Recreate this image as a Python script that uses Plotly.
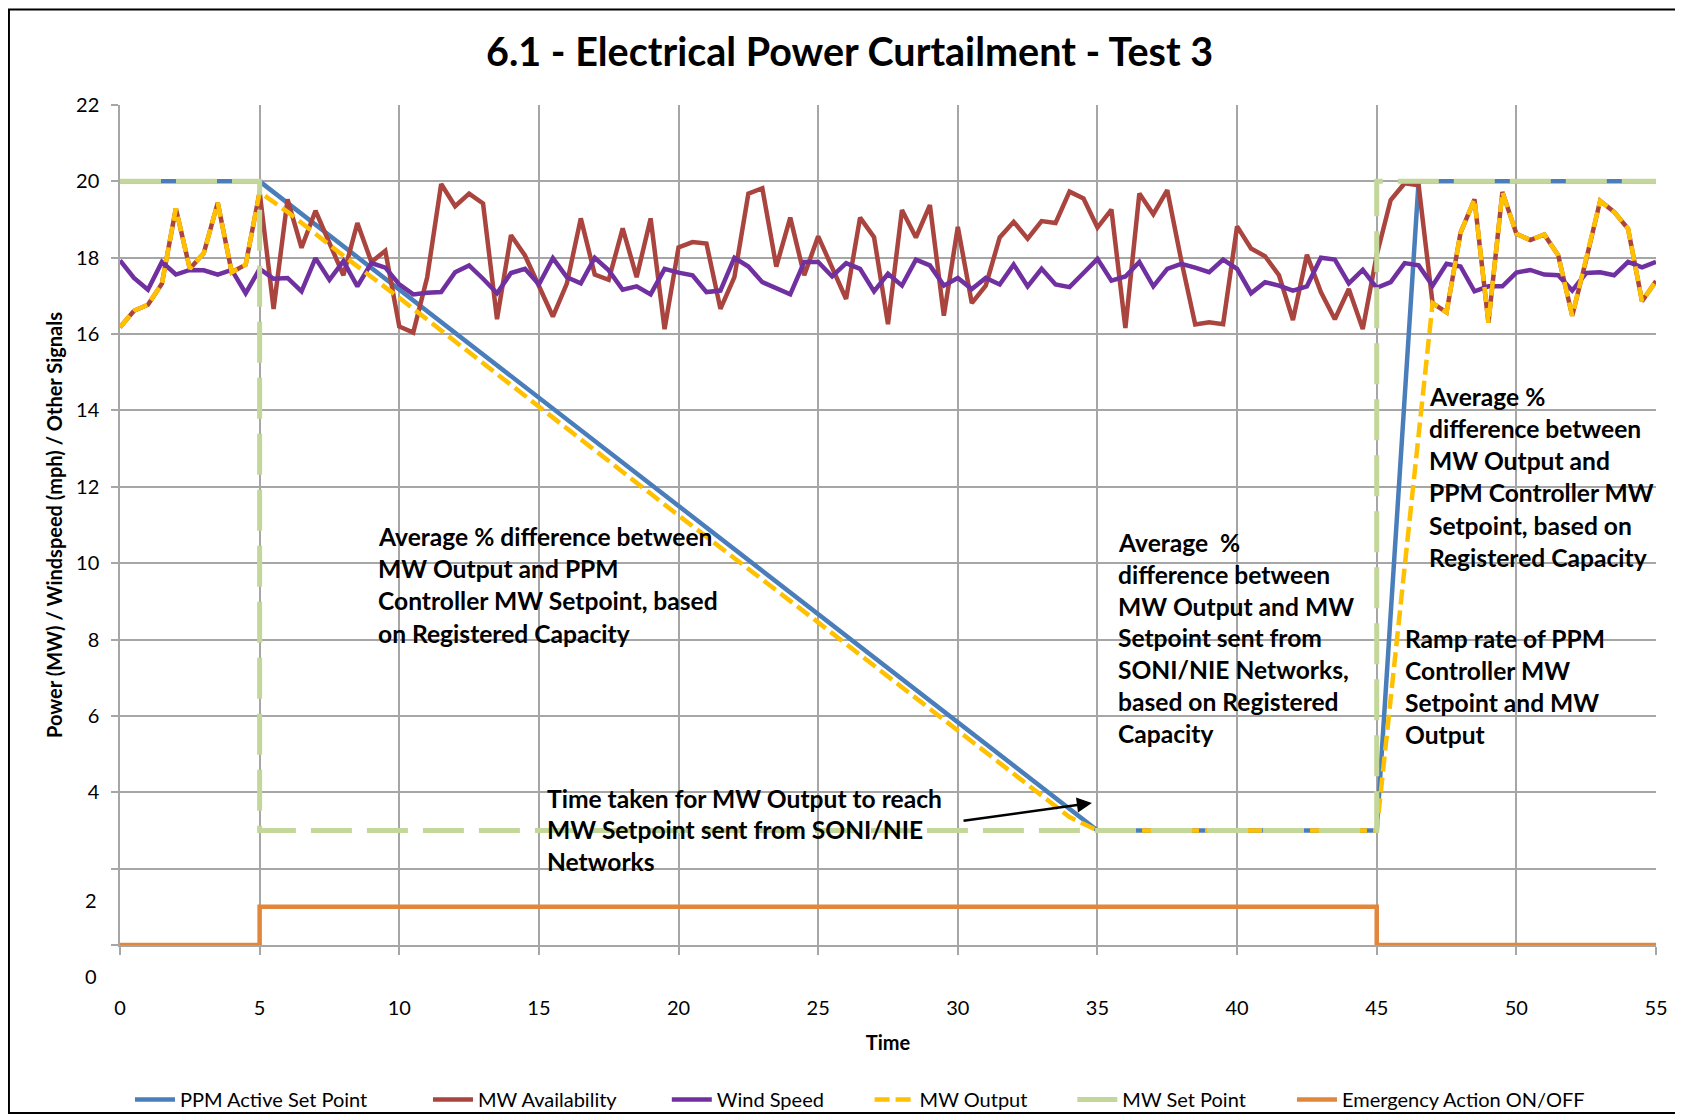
import plotly.graph_objects as go

# ============================================================
# DATA
# ============================================================
# sample times for the logged signals, every 0.5 time units
time_s = [
    0.0, 0.5, 1.0, 1.5, 2.0, 2.5, 3.0, 3.5, 4.0, 4.5,
    5.0, 5.5, 6.0, 6.5, 7.0, 7.5, 8.0, 8.5, 9.0, 9.5,
    10.0, 10.5, 11.0, 11.5, 12.0, 12.5, 13.0, 13.5, 14.0, 14.5,
    15.0, 15.5, 16.0, 16.5, 17.0, 17.5, 18.0, 18.5, 19.0, 19.5,
    20.0, 20.5, 21.0, 21.5, 22.0, 22.5, 23.0, 23.5, 24.0, 24.5,
    25.0, 25.5, 26.0, 26.5, 27.0, 27.5, 28.0, 28.5, 29.0, 29.5,
    30.0, 30.5, 31.0, 31.5, 32.0, 32.5, 33.0, 33.5, 34.0, 34.5,
    35.0, 35.5, 36.0, 36.5, 37.0, 37.5, 38.0, 38.5, 39.0, 39.5,
    40.0, 40.5, 41.0, 41.5, 42.0, 42.5, 43.0, 43.5, 44.0, 44.5,
    45.0, 45.5, 46.0, 46.5, 47.0, 47.5, 48.0, 48.5, 49.0, 49.5,
    50.0, 50.5, 51.0, 51.5, 52.0, 52.5, 53.0, 53.5, 54.0, 54.5,
    55.0,
]

mw_availability = [
    16.18, 16.61, 16.77, 17.32, 19.29, 17.71, 18.12, 19.44, 17.62, 17.82,
    19.72, 16.66, 19.53, 18.26, 19.23, 18.40, 17.54, 18.91, 17.89, 18.18,
    16.20, 16.04, 17.49, 19.93, 19.35, 19.68, 19.42, 16.39, 18.59, 18.06,
    17.27, 16.46, 17.32, 19.03, 17.56, 17.42, 18.77, 17.49, 19.03, 16.13,
    18.27, 18.41, 18.37, 16.66, 17.49, 19.68, 19.82, 17.77, 19.05, 17.54,
    18.56, 17.74, 16.92, 19.05, 18.54, 16.26, 19.25, 18.53, 19.38, 16.48,
    18.81, 16.81, 17.27, 18.53, 18.94, 18.50, 18.96, 18.91, 19.73, 19.55,
    18.79, 19.26, 16.16, 19.68, 19.14, 19.77, 17.93, 16.25, 16.31, 16.26,
    18.82, 18.24, 18.04, 17.54, 16.37, 18.08, 17.10, 16.39, 17.18, 16.13,
    18.07, 19.51, 19.95, 19.90, 16.81, 16.57, 18.65, 19.53, 16.30, 19.72,
    18.63, 18.46, 18.61, 18.06, 16.48, 17.95, 19.49, 19.20, 18.76, 16.86,
    17.39,
]

wind_speed = [
    17.93, 17.47, 17.16, 17.89, 17.56, 17.68, 17.67, 17.56, 17.68, 17.07,
    17.71, 17.45, 17.47, 17.12, 17.99, 17.42, 17.91, 17.25, 17.86, 17.74,
    17.30, 17.04, 17.08, 17.10, 17.62, 17.80, 17.45, 17.07, 17.60, 17.71,
    17.30, 17.99, 17.49, 17.33, 18.00, 17.67, 17.16, 17.25, 17.04, 17.71,
    17.61, 17.54, 17.10, 17.14, 18.00, 17.77, 17.36, 17.21, 17.04, 17.89,
    17.89, 17.51, 17.86, 17.71, 17.12, 17.58, 17.27, 17.95, 17.80, 17.27,
    17.47, 17.18, 17.47, 17.30, 17.82, 17.25, 17.71, 17.30, 17.23, 17.60,
    17.97, 17.40, 17.51, 17.89, 17.25, 17.71, 17.84, 17.74, 17.62, 17.95,
    17.71, 17.07, 17.36, 17.27, 17.14, 17.25, 18.00, 17.95, 17.33, 17.68,
    17.21, 17.36, 17.86, 17.80, 17.27, 17.84, 17.77, 17.12, 17.25, 17.25,
    17.61, 17.68, 17.56, 17.54, 17.14, 17.60, 17.62, 17.54, 17.89, 17.75,
    17.89,
]

# MW output: follows availability, then the curtailment ramp, then availability again
mw_output_t = [
    0.0, 0.5, 1.0, 1.5, 2.0, 2.5, 3.0, 3.5, 4.0, 4.5, 5.0,
    6.0, 8.0, 10.0, 15.0, 20.0, 25.0, 30.0, 34.0, 35.0, 40.0, 45.0,
    47.0, 47.5, 48.0, 48.5, 49.0, 49.5, 50.0, 50.5, 51.0, 51.5,
    52.0, 52.5, 53.0, 53.5, 54.0, 54.5, 55.0,
]
mw_output = [
    16.18, 16.61, 16.77, 17.32, 19.29, 17.71, 18.12, 19.44, 17.62, 17.82, 19.72,
    19.20, 18.05, 16.95, 14.10, 11.25, 8.45, 5.60, 3.35, 3.00, 3.00, 3.00,
    16.81, 16.57, 18.65, 19.53, 16.30, 19.72, 18.63, 18.46, 18.61, 18.06,
    16.48, 17.95, 19.49, 19.20, 18.76, 16.86, 17.39,
]

ppm_setpoint_t = [0, 5, 35, 45, 46.5, 55]
ppm_setpoint = [20, 20, 3, 3, 20, 20]

mw_setpoint_t = [0, 5, 5, 45, 45, 55]
mw_setpoint = [20, 20, 3, 3, 20, 20]

emergency_t = [0, 5, 5, 45, 45, 55]
emergency = [0, 0, 1, 1, 0, 0]

y_ticks = [0, 2, 4, 6, 8, 10, 12, 14, 16, 18, 20, 22]
y_ticktext = ["", "", "4", "6", "8", "10", "12", "14", "16", "18", "20", "22"]

FONT = "Lato"
GRID = "#A6A6A6"

# ============================================================
# FIGURE
# ============================================================
fig = go.Figure()

# name, x, y, colour, width, dash, legend id, legend x (paper)
series = [
    ("PPM Active Set Point", ppm_setpoint_t, ppm_setpoint, "#4A7EBB", 4.5, "solid", "legend", 0.0065),
    ("MW Availability", time_s, mw_availability, "#A9443F", 4.5, "solid", "legend2", 0.2005),
    ("Wind Speed", time_s, wind_speed, "#7030A0", 4.5, "solid", "legend3", 0.356),
    ("MW Output", mw_output_t, mw_output, "#FFC000", 4.5, "15px,6px", "legend4", 0.488),
    ("MW Set Point", mw_setpoint_t, mw_setpoint, "#C4D79B", 5, "41px,15px", "legend5", 0.620),
    ("Emergency Action ON/OFF", emergency_t, emergency, "#E2863B", 4.5, "solid", "legend6", 0.763),
]
legend_layout = {}
for name, xs, ys, color, width, dash, leg, lx in series:
    fig.add_trace(go.Scatter(
        x=xs, y=ys, name=name, mode="lines", legend=leg,
        line=dict(color=color, width=width, dash=dash),
    ))
    legend_layout[leg] = dict(
        x=lx, y=-0.184, xanchor="left", yanchor="middle", orientation="h",
        font=dict(family=FONT, size=20, color="black"),
        bgcolor="rgba(0,0,0,0)", itemwidth=40,
    )

# text notes on the chart, one annotation per line so the spacing matches
def add_note(x, y_top, lines, pitch=0.84):
    for i, txt in enumerate(lines):
        fig.add_annotation(
            x=x, y=y_top - i * pitch, xref="x", yref="y",
            text=f"<b>{txt}</b>", showarrow=False,
            xanchor="left", yanchor="middle",
            font=dict(family=FONT, size=24.6, color="black"),
        )

add_note(9.18, 10.69, ["Average % difference between", "MW Output and PPM",
                       "Controller MW Setpoint, based", "on Registered Capacity"])
add_note(35.68, 10.54, ["Average  %", "difference between", "MW Output and MW",
                        "Setpoint sent from", "SONI/NIE Networks,",
                        "based on Registered", "Capacity"], pitch=0.832)
add_note(46.8, 14.36, ["Average %", "difference between", "MW Output and",
                       "PPM Controller MW", "Setpoint, based on",
                       "Registered Capacity"])
add_note(45.94, 8.03, ["Ramp rate of PPM", "Controller MW",
                       "Setpoint and MW", "Output"])
add_note(15.23, 3.84, ["Time taken for MW Output to reach",
                       "MW Setpoint sent from SONI/NIE", "Networks"], pitch=0.82)

# arrow pointing at the end of the ramp
fig.add_annotation(
    x=34.8, y=3.72, ax=30.15, ay=3.25, xref="x", yref="y", axref="x", ayref="y",
    text="", showarrow=True, arrowhead=2, arrowsize=1.2, arrowwidth=2.5, arrowcolor="black",
)

# the two lowest y labels sit below their gridlines in the original
for val, pos in [("2", 0.0541), ("0", -0.0368)]:
    fig.add_annotation(
        x=0, y=pos, xref="paper", yref="paper", text=val, showarrow=False,
        xanchor="right", yanchor="middle", xshift=-21,
        font=dict(family=FONT, size=20, color="black"),
    )

# outer chart border
fig.add_shape(type="rect", xref="paper", yref="paper",
              x0=-0.0723, x1=1.05, y0=-0.2, y1=1.1137,
              line=dict(color="black", width=2), fillcolor="rgba(0,0,0,0)")

fig.update_layout(
    width=1683, height=1119,
    margin=dict(l=112, r=35, t=97, b=182, autoexpand=False),
    paper_bgcolor="white", plot_bgcolor="white",
    font=dict(family=FONT, size=20, color="black"),
    title=dict(
        text="<b>6.1 - Electrical Power Curtailment - Test 3</b>",
        x=0.475, xref="paper", xanchor="center",
        y=0.9607, yref="container", yanchor="middle",
        font=dict(family=FONT, size=39.5, color="black"),
    ),
    showlegend=True,
    **legend_layout,
)

fig.update_xaxes(
    range=[0, 55], tickvals=[0, 5, 10, 15, 20, 25, 30, 35, 40, 45, 50, 55],
    showgrid=True, gridcolor=GRID, gridwidth=1.5,
    showline=True, linecolor=GRID, linewidth=1.5,
    ticks="outside", ticklen=8, tickcolor=GRID, tickwidth=1.5,
    ticklabelstandoff=36, zeroline=False, automargin=False,
    tickfont=dict(family=FONT, size=20, color="black"),
    title=dict(text="<b>Time</b>", standoff=18, font=dict(family=FONT, size=20, color="black")),
)
fig.update_yaxes(
    range=[0, 22], tickvals=y_ticks, ticktext=y_ticktext,
    showgrid=True, gridcolor=GRID, gridwidth=1.5,
    showline=True, linecolor=GRID, linewidth=1.5,
    ticks="outside", ticklen=7, tickcolor=GRID, tickwidth=1.5,
    ticklabelstandoff=8, zeroline=False, automargin=False,
    tickfont=dict(family=FONT, size=20, color="black"),
    title=dict(text="<b>Power (MW) / Windspeed (mph) / Other Signals</b>", standoff=8,
               font=dict(family=FONT, size=20, color="black")),
)

fig.write_html("out.html")
